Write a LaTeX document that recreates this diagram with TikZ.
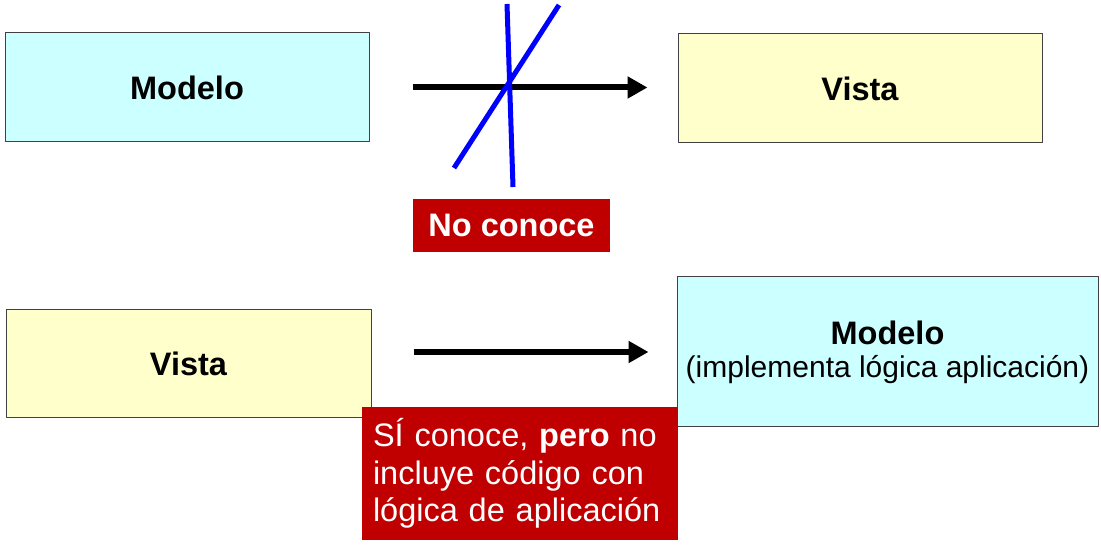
\documentclass[tikz,border=0pt]{standalone}
\usepackage{fontspec}
\setmainfont{Liberation Sans}
\usetikzlibrary{arrows.meta}
\definecolor{modelcol}{HTML}{CCFFFF}
\definecolor{viewcol}{HTML}{FFFFCC}
\definecolor{notecol}{HTML}{C00000}
\begin{document}
\begin{tikzpicture}[>={Triangle[length=20bp,width=21bp]},line join=bevel,
  box/.style={draw=black!75,line width=1bp,inner sep=0pt,font=\fontsize{32.5bp}{33bp}\selectfont\bfseries},
  modelbox/.style={box,fill=modelcol},
  viewbox/.style={box,fill=viewcol},
  note/.style={fill=notecol,text=white,inner sep=0pt,font=\fontsize{32.5bp}{37.5bp}\selectfont},
  link/.style={->,line width=6bp},
  cross/.style={blue,line width=5bp}]
  \useasboundingbox (0bp,0bp) rectangle (1101bp,546bp);
%%
  % Node: Modelo
  \node [modelbox,minimum width=364bp,minimum height=109bp] (modelo) at (187bp,458.5bp) {Modelo};
  % Node: Vista
  \node [viewbox,minimum width=364bp,minimum height=109bp] (vista) at (860bp,457.5bp) {Vista};
  % Edge: Modelo -> Vista
  \draw [link,shorten <=43bp,shorten >=30bp] (modelo.east) -- (modelo.east -| vista.west);
  % Strike: no conoce
  \draw [cross] (507bp,542bp) -- (513bp,359bp);
  \draw [cross] (559bp,541bp) -- (454bp,378bp);
  % Node: No conoce
  \node [note,minimum width=197bp,minimum height=53bp] (noconoce) at (511.5bp,320.5bp) {\bfseries No conoce};
%
  % Node: Vista (abajo)
  \node [viewbox,minimum width=365bp,minimum height=108bp] (vista2) at (188.5bp,182bp) {Vista};
  % Node: Modelo (abajo)
  \node [modelbox,align=center,minimum width=421bp,minimum height=150bp] (modelo2) at (887.5bp,194bp)
    {Modelo\\{\fontsize{30bp}{33bp}\selectfont\mdseries (implementa lógica aplicación)}};
  % Edge: Vista -> Modelo
  \draw [link,shorten <=42bp,shorten >=28bp] (vista2.east |- modelo2) -- (modelo2.west);
  % Node: Si conoce
  \node [note,align=left,text width=294bp,inner xsep=11bp,minimum height=133bp] (siconoce) at (520bp,72.5bp)
    {SÍ conoce, \textbf{pero} no\\incluye código con\\lógica de aplicación};
%
\end{tikzpicture}
\end{document}
